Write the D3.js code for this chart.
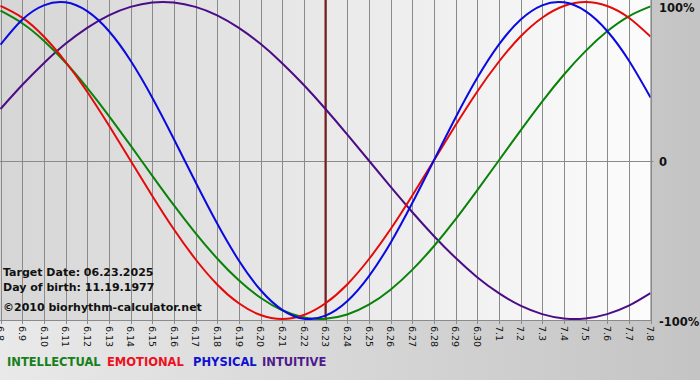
<!DOCTYPE html>
<html>
<head>
<meta charset="utf-8">
<script src="https://cdn.jsdelivr.net/npm/d3@7"></script>
<style>
html,body{margin:0;padding:0;background:#d0d0d0;}
svg{display:block;}
</style>
</head>
<body>
<svg id="chart" width="700" height="380"></svg>
<script>
const dates = ["6.8","6.9","6.10","6.11","6.12","6.13","6.14","6.15","6.16","6.17","6.18","6.19","6.20","6.21","6.22","6.23","6.24","6.25","6.26","6.27","6.28","6.29","6.30","7.1","7.2","7.3","7.4","7.5","7.6","7.7","7.8"];
const physical = [0.731,0.888,0.979,0.998,0.942,0.817,0.631,0.398,0.136,-0.136,-0.398,-0.631,-0.817,-0.942,-0.998,-0.979,-0.888,-0.731,-0.520,-0.270,0,0.270,0.520,0.731,0.888,0.979,0.998,0.942,0.817,0.631,0.398];
const emotional = [0.975,0.901,0.782,0.623,0.434,0.222,0,-0.222,-0.434,-0.623,-0.782,-0.901,-0.975,-1.0,-0.975,-0.901,-0.782,-0.623,-0.434,-0.222,0,0.222,0.434,0.623,0.782,0.901,0.975,1.0,0.975,0.901,0.782];
const intellectual = [0.945,0.866,0.756,0.618,0.458,0.282,0.095,-0.095,-0.282,-0.458,-0.618,-0.756,-0.866,-0.945,-0.990,-0.999,-0.972,-0.910,-0.815,-0.690,-0.541,-0.372,-0.189,0,0.189,0.372,0.541,0.690,0.815,0.910,0.972];
const intuitive = [0.325,0.476,0.614,0.736,0.837,0.916,0.969,0.997,0.997,0.969,0.916,0.837,0.736,0.614,0.476,0.325,0.165,0,-0.165,-0.325,-0.476,-0.614,-0.736,-0.837,-0.916,-0.969,-0.997,-0.997,-0.969,-0.916,-0.837];
const yTicks = [1, 0, -1];
const yTickLabels = ["100%", "0", "-100%"];
const targetDate = "6.23";
const infoLines = ["Target Date: 06.23.2025", "Day of birth: 11.19.1977", "\u00a92010 biorhythm-calculator.net"];
const legendNames = ["INTELLECTUAL", "EMOTIONAL", "PHYSICAL", "INTUITIVE"];

const series = [
  {name: "intuitive", values: intuitive, color: "#4b0d86"},
  {name: "intellectual", values: intellectual, color: "#0a820a"},
  {name: "emotional", values: emotional, color: "#e50a0a"},
  {name: "physical", values: physical, color: "#0a0ae0"}
];
const legendColors = ["#16801a", "#ee1020", "#1010d0", "#4e1a8c"];

const svg = d3.select("#chart");
const W = 700, H = 380;
const plot = {left: 0, right: 650.5, top: 0, bottom: 320};

const defs = svg.append("defs");
const bgGrad = defs.append("linearGradient").attr("id","bgGrad").attr("x1","0").attr("x2","1").attr("y1","0").attr("y2","0");
bgGrad.append("stop").attr("offset","0").attr("stop-color","#e9e9e9");
bgGrad.append("stop").attr("offset","1").attr("stop-color","#c4c4c4");
const plotGrad = defs.append("linearGradient").attr("id","plotGrad").attr("x1","0").attr("x2","1").attr("y1","0").attr("y2","0");
plotGrad.append("stop").attr("offset","0").attr("stop-color","#d6d6d6");
plotGrad.append("stop").attr("offset","1").attr("stop-color","#fcfcfc");

svg.append("rect").attr("width",W).attr("height",H).attr("fill","url(#bgGrad)");
svg.append("rect").attr("x",plot.left).attr("y",plot.top)
  .attr("width",plot.right-plot.left).attr("height",plot.bottom-plot.top)
  .attr("fill","url(#plotGrad)");

const x = d3.scalePoint().domain(dates).range([plot.left+0.5, plot.right]);
const y = d3.scaleLinear().domain([-1, 1]).range([319, 2]);

// vertical grid lines + ticks
svg.append("g").selectAll("line").data(dates).join("line")
  .attr("x1", d => Math.round(x(d))+0.5).attr("x2", d => Math.round(x(d))+0.5)
  .attr("y1", plot.top).attr("y2", plot.bottom+4)
  .attr("stroke","#8a8a8a").attr("stroke-width",1);

// zero line
svg.append("line").attr("x1",plot.left).attr("x2",plot.right+3)
  .attr("y1",Math.round(y(0))+0.5).attr("y2",Math.round(y(0))+0.5)
  .attr("stroke","#8a8a8a").attr("stroke-width",1);

// plot border right/bottom
svg.append("line").attr("x1",plot.right+0.5).attr("x2",plot.right+0.5).attr("y1",plot.top).attr("y2",plot.bottom)
  .attr("stroke","#8a8a8a");
svg.append("line").attr("x1",plot.left).attr("x2",plot.right+0.5).attr("y1",plot.bottom+0.5).attr("y2",plot.bottom+0.5)
  .attr("stroke","#8a8a8a");

// x labels, rotated
svg.append("g").selectAll("text").data(dates).join("text")
  .attr("transform", d => `translate(${x(d)},${plot.bottom+6}) rotate(90)`)
  .attr("dy","0.35em")
  .attr("font-family","'DejaVu Sans', Verdana, sans-serif")
  .attr("font-size","9.5px")
  .attr("fill","#111")
  .text(d => d);

// target marker
svg.append("line").attr("x1",x(targetDate)).attr("x2",x(targetDate))
  .attr("y1",plot.top).attr("y2",plot.bottom)
  .attr("stroke","#7a1c1c").attr("stroke-width",2);

// curves
const line = d3.line().x((d,i) => x(dates[i])).y(d => y(d)).curve(d3.curveNatural);
const clip = defs.append("clipPath").attr("id","plotClip");
clip.append("rect").attr("x",plot.left).attr("y",plot.top).attr("width",plot.right-plot.left).attr("height",plot.bottom-plot.top);
svg.append("g").attr("clip-path","url(#plotClip)").selectAll("path").data(series).join("path")
  .attr("d", s => line(s.values))
  .attr("fill","none").attr("stroke", s => s.color).attr("stroke-width",2);

// right y labels
svg.append("g").selectAll("text").data(yTicks).join("text")
  .attr("x", 659)
  .attr("y", (d,i) => i===0 ? 8 : (i===2 ? 322 : y(d)+1))
  .attr("dy","0.35em")
  .attr("font-family","'DejaVu Sans', Verdana, sans-serif")
  .attr("font-weight","bold").attr("font-size","11.5px").attr("fill","#111")
  .text((d,i) => yTickLabels[i]);

// info lines
const infoY = [276, 291, 311];
svg.append("g").selectAll("text").data(infoLines).join("text")
  .attr("x", 3).attr("y", (d,i) => infoY[i])
  .attr("font-family","'DejaVu Sans', Verdana, sans-serif")
  .attr("font-weight","bold").attr("font-size","11px").attr("fill","#111")
  .text(d => d);

// legend
const legendX = [7, 107, 193, 262];
svg.append("g").selectAll("text").data(legendNames).join("text")
  .attr("x", (d,i) => legendX[i]).attr("y", 366)
  .attr("font-family","'DejaVu Sans', Verdana, sans-serif")
  .attr("font-weight","bold").attr("font-size","11.5px")
  .attr("fill", (d,i) => legendColors[i])
  .text(d => d);
</script>
</body>
</html>
